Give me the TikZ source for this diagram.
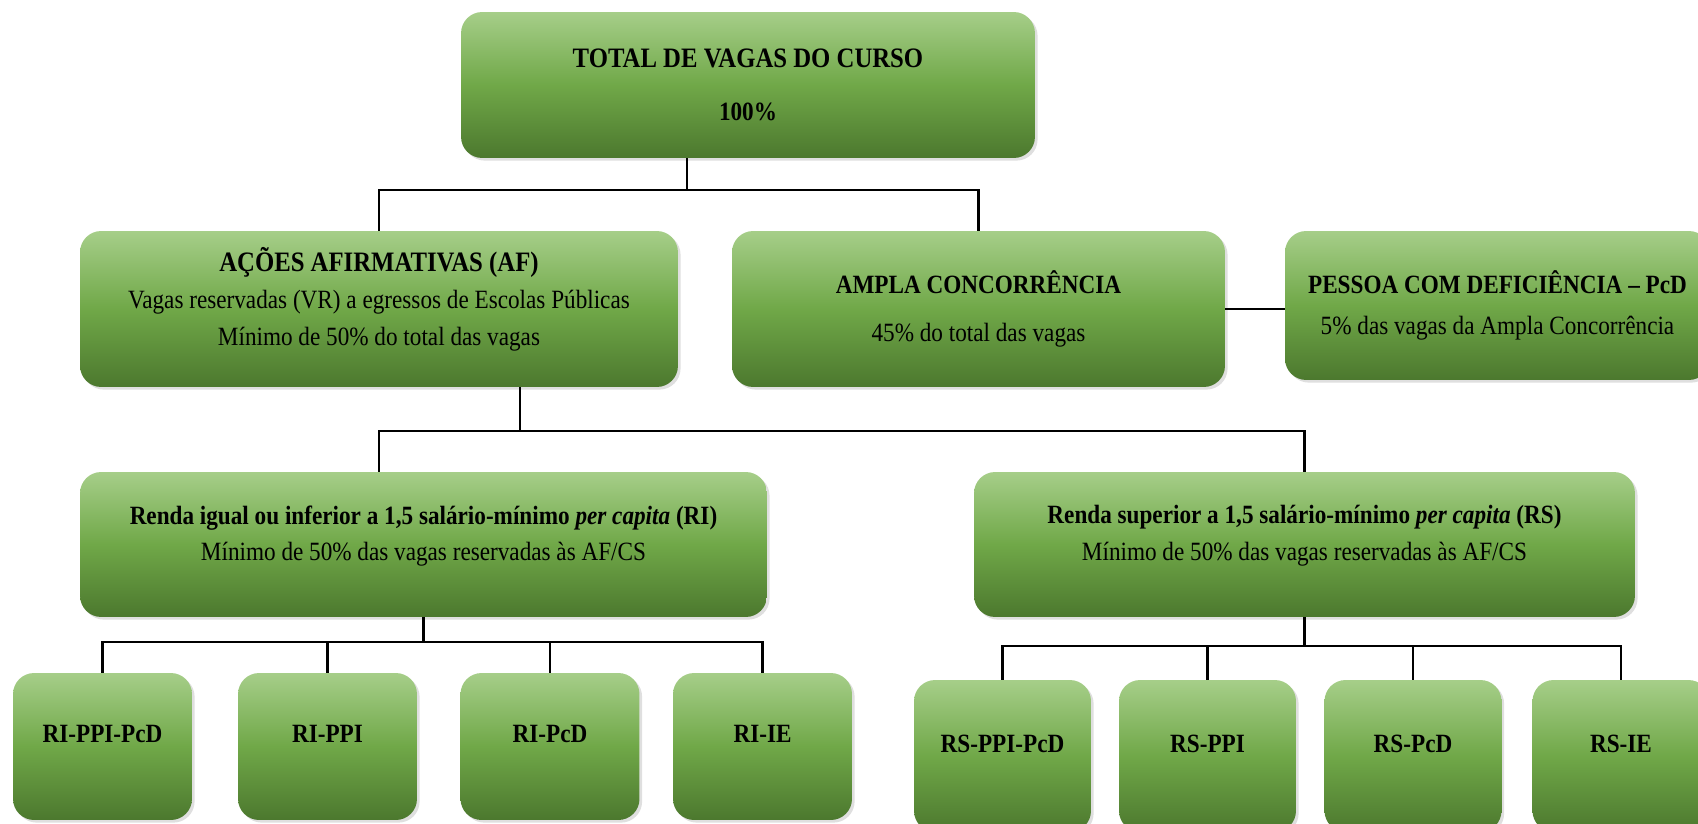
\documentclass[tikz,border=0pt]{standalone}
\usepackage{fontspec}
\setmainfont{Liberation Serif}[FakeStretch=0.88]
\usetikzlibrary{positioning,shadows}

\definecolor{boxtop}{RGB}{166,206,137}
\definecolor{boxmid}{RGB}{112,168,72}
\definecolor{boxbot}{RGB}{76,120,46}

\begin{document}
\begin{tikzpicture}[x=0.02cm,y=-0.02cm,
  box/.style={rounded corners=12pt,draw=none,top color=boxtop,bottom color=boxbot,middle color=boxmid,
    align=center,inner sep=0pt,font=\fontsize{15}{20}\selectfont,
    drop shadow={opacity=0.25,shadow xshift=1.5pt,shadow yshift=-1.5pt}},
  small/.style={box,font=\fontsize{15}{20}\selectfont\bfseries,text depth=0.5cm},
  conn/.style={line width=1.6pt,black}]
\useasboundingbox (0,0) rectangle (1698,824);

% top level
\node[box,minimum width=11.48cm,minimum height=2.92cm] (total) at (748,85)
  {\fontsize{16}{20}\selectfont\textbf{TOTAL DE VAGAS DO CURSO}\\[10pt]\textbf{100\%}};

% second level
\node[box,minimum width=11.96cm,minimum height=3.12cm,text depth=0.5cm] (af) at (379,309)
  {{\fontsize{16}{20}\selectfont\textbf{AÇÕES AFIRMATIVAS (AF)}}\\[1pt]Vagas reservadas (VR) a egressos de Escolas Públicas\\[1pt]Mínimo de 50\% do total das vagas};
\node[box,minimum width=9.86cm,minimum height=3.12cm] (ac) at (978.5,309)
  {\textbf{AMPLA CONCORRÊNCIA}\\[7pt]45\% do total das vagas};
\node[box,minimum width=8.5cm,minimum height=2.98cm] (pcd) at (1497.5,305.5)
  {\textbf{PESSOA COM DEFICIÊNCIA – PcD}\\[3pt]5\% das vagas da Ampla Concorrência};

% income groups
\node[box,minimum width=13.74cm,minimum height=2.9cm,text depth=0.45cm] (ri) at (423.5,544.5)
  {\textbf{Renda igual ou inferior a 1,5 salário-mínimo \textit{per capita} (RI)}\\[1pt]Mínimo de 50\% das vagas reservadas às AF/CS};
\node[box,minimum width=13.22cm,minimum height=2.9cm,text depth=0.45cm] (rs) at (1304.5,544.5)
  {\textbf{Renda superior a 1,5 salário-mínimo \textit{per capita} (RS)}\\[1pt]Mínimo de 50\% das vagas reservadas às AF/CS};

% quota groups
\foreach \lab/\x [count=\i] in {RI-PPI-PcD/102.5,RI-PPI/327.5,RI-PcD/550,RI-IE/762.5}
  \node[small,minimum width=3.58cm,minimum height=2.94cm] (ri\i) at (\x,746.5) {\lab};
\foreach \lab/\x [count=\i] in {RS-PPI-PcD/1002.5,RS-PPI/1207.5,RS-PcD/1413,RS-IE/1621}
  \node[small,minimum width=3.54cm,minimum height=3.04cm] (rs\i) at (\x,756) {\lab};

% connectors
\coordinate (j1) at (687,190);
\coordinate (j2) at (520,431);
\coordinate (j3) at (425,642);
\coordinate (j4) at (1305,646);
\draw[conn] (total.south -| j1) -- (j1);
\draw[conn] (af.north) |- (j1) -| (ac.north);
\draw[conn] (ac.east) -- (pcd.west |- ac.east);
\draw[conn] (af.south -| j2) -- (j2);
\draw[conn] (ri.north -| af.north) |- (j2) -| (rs.north);
\draw[conn] (ri.south) -- (ri.south |- j3);
\draw[conn] (ri1.north) |- (j3) -| (ri4.north);
\draw[conn] (rs.south) -- (rs.south |- j4);
\draw[conn] (rs1.north) |- (j4) -| (rs4.north);
\foreach \n in {2,3} {
  \draw[conn] (ri\n.north) -- (ri\n.north |- j3);
  \draw[conn] (rs\n.north) -- (rs\n.north |- j4);
}
\end{tikzpicture}
\end{document}
